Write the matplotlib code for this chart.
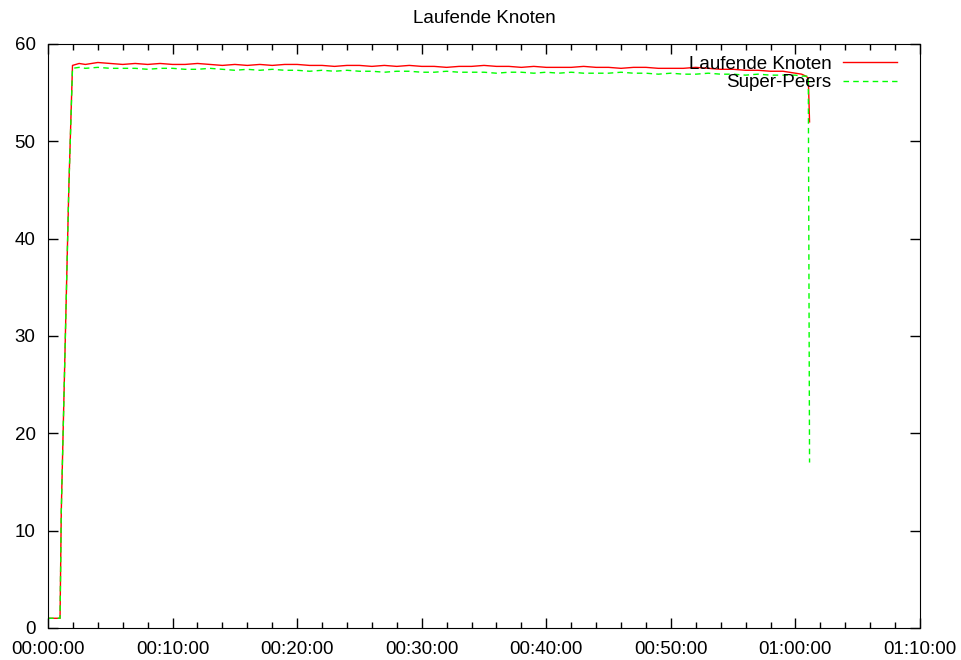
import numpy as np
import matplotlib.pyplot as plt
from matplotlib.ticker import MultipleLocator, FuncFormatter

# Zeit in Sekunden
zeit = [0, 30, 58, 64, 100, 118, 150, 180, 240, 300, 360, 420, 480, 540, 600,
        660, 720, 780, 840, 900, 960, 1020, 1080, 1140, 1200, 1260, 1320, 1380,
        1440, 1500, 1560, 1620, 1680, 1740, 1800, 1860, 1920, 1980, 2040, 2100,
        2160, 2220, 2280, 2340, 2400, 2460, 2520, 2580, 2640, 2700, 2760, 2820,
        2880, 2940, 3000, 3060, 3120, 3180, 3240, 3300, 3360, 3420, 3480, 3540,
        3600, 3630, 3650, 3662, 3668]

laufende_knoten = [1, 1, 1, 12, 45, 57.8, 58.0, 57.9, 58.1, 58.0, 57.9, 58.0, 57.9,
                   58.0, 57.9, 57.9, 58.0, 57.9, 57.8, 57.9, 57.8, 57.9, 57.8,
                   57.9, 57.9, 57.8, 57.8, 57.7, 57.8, 57.8, 57.7, 57.8, 57.7,
                   57.8, 57.7, 57.7, 57.6, 57.7, 57.7, 57.8, 57.7, 57.7, 57.6,
                   57.7, 57.6, 57.6, 57.6, 57.7, 57.6, 57.6, 57.5, 57.6, 57.6,
                   57.5, 57.5, 57.5, 57.6, 57.5, 57.4, 57.4, 57.3, 57.3, 57.2,
                   57.2, 57.0, 56.9, 56.7, 56.5, 52.0]

super_peers = [1, 1, 1, 12, 45, 57.5, 57.6, 57.5, 57.6, 57.5, 57.5, 57.5, 57.4,
               57.5, 57.5, 57.4, 57.4, 57.5, 57.4, 57.3, 57.4, 57.3, 57.4, 57.3,
               57.3, 57.2, 57.3, 57.2, 57.3, 57.2, 57.2, 57.1, 57.2, 57.2,
               57.1, 57.1, 57.2, 57.1, 57.1, 57.1, 57.0, 57.1, 57.1, 57.0,
               57.1, 57.0, 57.1, 57.0, 57.0, 57.0, 57.1, 57.0, 57.0, 56.9,
               57.0, 56.9, 56.9, 57.0, 56.9, 56.9, 56.8, 56.9, 56.8, 56.8,
               56.8, 56.7, 56.7, 56.7, 17.0]

plt.rcParams['font.family'] = ['Liberation Sans', 'DejaVu Sans']
plt.rcParams['font.size'] = 13.5

fig = plt.figure(figsize=(9.62, 6.60), dpi=100)
ax = fig.add_axes([48 / 962, 32 / 660, 872 / 962, 584 / 660])

ax.plot(zeit, laufende_knoten, color='#ff0000', lw=1, label='Laufende Knoten')
ax.plot(zeit, super_peers, color='#00ff00', lw=1, ls=(0, (4, 3)), label='Super-Peers')

ax.set_xlim(0, 4200)
ax.set_ylim(0, 60)
ax.xaxis.set_major_locator(MultipleLocator(600))
ax.xaxis.set_minor_locator(MultipleLocator(120))
ax.yaxis.set_major_locator(MultipleLocator(10))
ax.xaxis.set_major_formatter(FuncFormatter(
    lambda s, p: '%02d:%02d:%02d' % (s // 3600, (s % 3600) // 60, s % 60)))
ax.tick_params(which='both', direction='in', top=True, right=True, width=1)
ax.tick_params(which='major', length=7, labelsize=13.5)
ax.tick_params(which='minor', length=4)
ax.tick_params(axis='x', which='major', pad=9)
ax.tick_params(axis='y', which='major', pad=9)

ax.set_title('Laufende Knoten', fontsize=13.5, pad=15)

leg = ax.legend(loc='upper right', frameon=False, markerfirst=False,
                fontsize=13.5, handlelength=2.9, borderaxespad=0, borderpad=0,
                bbox_to_anchor=(0.9736, 0.980),
                labelspacing=0.08, handletextpad=0.6)
for t in leg.get_texts():
    t.set_ha('right')

plt.savefig('out.png', dpi=100)
